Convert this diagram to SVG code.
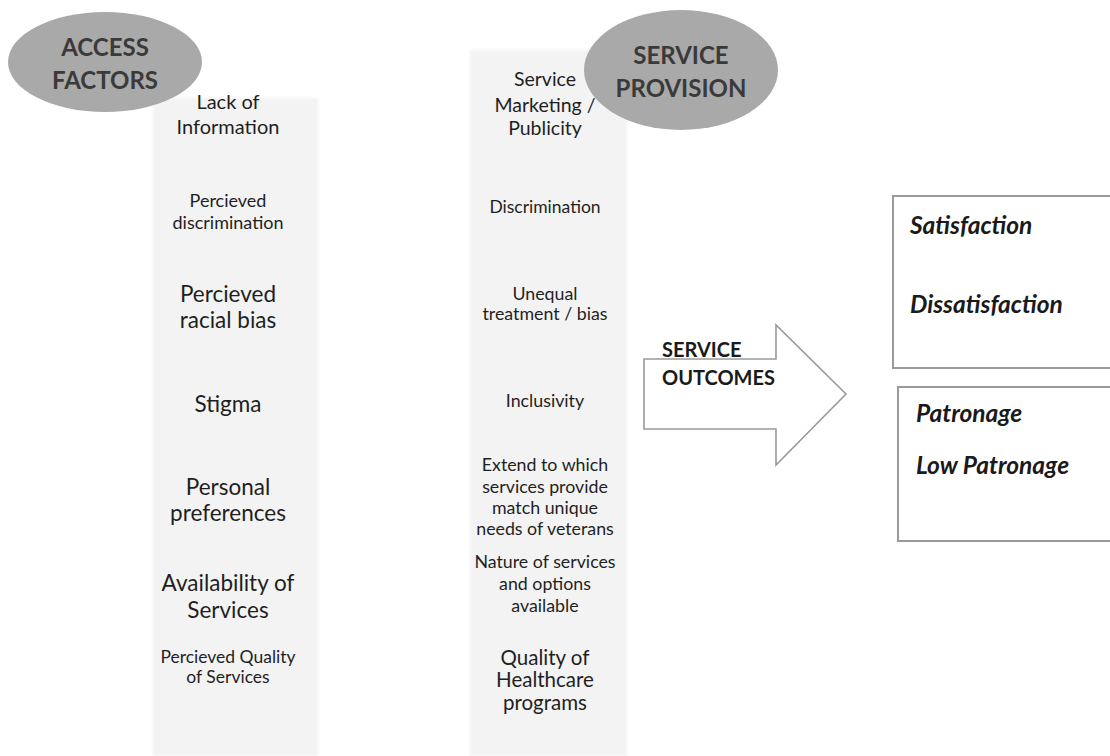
<svg xmlns="http://www.w3.org/2000/svg" width="1110" height="756" viewBox="0 0 1110 756">
  <style>
    text { font-family: Lato, "Open Sans", "Liberation Sans", sans-serif; fill: #1f1f1f; text-anchor: middle; }
    .hdr { font-weight: bold; font-size: 24px; fill: #3a3a3a; }
    .out { font-weight: bold; font-style: italic; font-size: 24.5px; text-anchor: start; fill: #1a1a1a; }
    .arrlbl { font-weight: bold; font-size: 20px; text-anchor: start; fill: #1a1a1a; }
    .panel { fill: #f3f3f3; }
    .bubble { fill: #a9a9a9; }
    .box { fill: #ffffff; stroke: #9a9a9a; stroke-width: 2; }
    .arrow { fill: #ffffff; stroke: #9a9a9a; stroke-width: 1.6; }
  </style>
  <defs>
    <filter id="soft" x="-5%" y="-5%" width="110%" height="110%">
      <feGaussianBlur stdDeviation="1.5"/>
    </filter>
  </defs>
  <rect width="1110" height="756" fill="#ffffff"/>

  <!-- background columns -->
  <rect class="panel" x="153" y="98" width="165" height="658" filter="url(#soft)"/>
  <rect class="panel" x="470" y="50" width="157" height="706" filter="url(#soft)"/>

  <!-- access factors column -->
  <g id="access-factors">
    <ellipse class="bubble" cx="105" cy="62" rx="97" ry="50"/>
    <text class="hdr" x="105" y="56">ACCESS</text>
    <text class="hdr" x="105" y="89">FACTORS</text>
  </g>
  <g id="access-items">
    <text x="228" y="109" font-size="20">Lack of</text>
    <text x="228" y="134" font-size="20">Information</text>
    <text x="228" y="207" font-size="18">Percieved</text>
    <text x="228" y="229" font-size="18">discrimination</text>
    <text x="228" y="302" font-size="22.5">Percieved</text>
    <text x="228" y="328" font-size="22.5">racial bias</text>
    <text x="228" y="412" font-size="22.5">Stigma</text>
    <text x="228" y="495" font-size="22.5">Personal</text>
    <text x="228" y="521" font-size="22.5">preferences</text>
    <text x="228" y="591" font-size="22.5">Availability of</text>
    <text x="228" y="618" font-size="22.5">Services</text>
    <text x="228" y="663" font-size="17.5">Percieved Quality</text>
    <text x="228" y="683" font-size="17.5">of Services</text>
  </g>

  <!-- service provision column -->
  <g id="service-provision">
    <ellipse class="bubble" cx="681" cy="70" rx="97" ry="60"/>
    <text class="hdr" x="681" y="64">SERVICE</text>
    <text class="hdr" x="681" y="97">PROVISION</text>
  </g>
  <g id="provision-items">
    <text x="545" y="86" font-size="19.5">Service</text>
    <text x="545" y="112" font-size="19.5">Marketing /</text>
    <text x="545" y="135" font-size="19.5">Publicity</text>
    <text x="545" y="213" font-size="17.5">Discrimination</text>
    <text x="545" y="300" font-size="17.8">Unequal</text>
    <text x="545" y="320" font-size="17.8">treatment / bias</text>
    <text x="545" y="407" font-size="17.8">Inclusivity</text>
    <text x="545" y="471" font-size="17.8">Extend to which</text>
    <text x="545" y="493" font-size="17.8">services provide</text>
    <text x="545" y="514" font-size="17.8">match unique</text>
    <text x="545" y="535" font-size="17.8">needs of veterans</text>
    <text x="545" y="568" font-size="17.8">Nature of services</text>
    <text x="545" y="590" font-size="17.8">and options</text>
    <text x="545" y="612" font-size="17.8">available</text>
    <text x="545" y="665" font-size="20.5">Quality of</text>
    <text x="545" y="687" font-size="20.5">Healthcare</text>
    <text x="545" y="710" font-size="20.5">programs</text>
  </g>

  <!-- block arrow leading to outcomes -->
  <g id="connectors">
    <path class="arrow" d="M644,359 L776,359 L776,325 L846,394 L776,465 L776,429 L644,429 Z"/>
    <text class="arrlbl" x="662" y="357">SERVICE</text>
    <text class="arrlbl" x="662" y="385">OUTCOMES</text>
  </g>

  <!-- outcome boxes -->
  <g id="satisfaction-box">
    <rect class="box" x="893" y="196" width="230" height="172"/>
    <text class="out" x="910" y="234">Satisfaction</text>
    <text class="out" x="910" y="313">Dissatisfaction</text>
  </g>
  <g id="patronage-box">
    <rect class="box" x="898" y="387" width="225" height="154"/>
    <text class="out" x="916" y="422">Patronage</text>
    <text class="out" x="916" y="474">Low Patronage</text>
  </g>
</svg>
